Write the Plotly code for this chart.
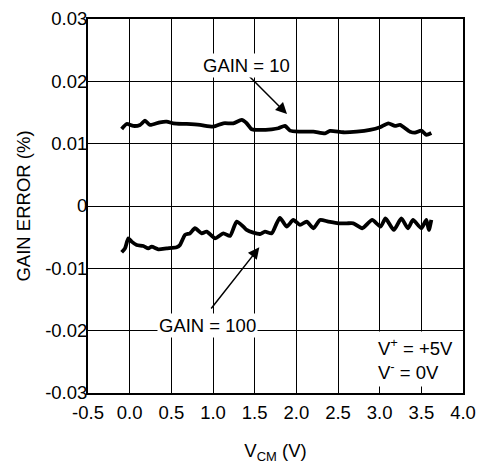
import plotly.graph_objects as go

# Data
gain10_x = [-0.096, -0.036, 0.044, 0.124, 0.184, 0.244, 0.364, 0.444, 0.524, 0.684,
            0.844, 1.004, 1.124, 1.244, 1.344, 1.404, 1.464, 1.564, 1.704, 1.784,
            1.864, 1.924, 2.044, 2.204, 2.344, 2.404, 2.564, 2.724, 2.884, 3.004,
            3.104, 3.184, 3.244, 3.364, 3.424, 3.50, 3.56, 3.62]
gain10_y = [0.01236, 0.01316, 0.01284, 0.0130, 0.01368, 0.0130, 0.01343, 0.01353, 0.01327, 0.01316,
            0.0130, 0.01273, 0.01327, 0.01327, 0.0138, 0.01327, 0.01231, 0.0122, 0.01231, 0.01247,
            0.01284, 0.01209, 0.01193, 0.01193, 0.01167, 0.01204, 0.01183, 0.01193, 0.0122, 0.01263,
            0.01327, 0.01284, 0.0130, 0.01193, 0.01177, 0.0121, 0.0114, 0.0117]

gain100_x = [-0.096, -0.056, -0.016, 0.024, 0.084, 0.164, 0.224, 0.264, 0.344, 0.444,
             0.564, 0.604, 0.664, 0.724, 0.784, 0.864, 0.924, 1.024, 1.124, 1.204,
             1.284, 1.364, 1.404, 1.484, 1.564, 1.624, 1.704, 1.764, 1.804, 1.884,
             1.964, 2.044, 2.124, 2.204, 2.284, 2.384, 2.504, 2.604, 2.684, 2.79,
             2.91, 3.01, 3.07, 3.17, 3.26, 3.34, 3.40, 3.50, 3.56, 3.59, 3.62]
gain100_y = [-0.00743, -0.0068, -0.00518, -0.00572, -0.00625, -0.00641, -0.0068, -0.00652, -0.00694, -0.0068,
             -0.00662, -0.00625, -0.00464, -0.00438, -0.00357, -0.00438, -0.00411, -0.00518, -0.00438, -0.00481,
             -0.0025, -0.00331, -0.00384, -0.00427, -0.00449, -0.00411, -0.00438, -0.00278, -0.0019, -0.00331,
             -0.00224, -0.00304, -0.0025, -0.00357, -0.00224, -0.0025, -0.00278, -0.00278, -0.00278, -0.00357,
             -0.00224, -0.00331, -0.0020, -0.00384, -0.0020, -0.00357, -0.00224, -0.00357, -0.00224, -0.00384, -0.00224]

x_ticks = [-0.5, 0.0, 0.5, 1.0, 1.5, 2.0, 2.5, 3.0, 3.5, 4.0]
x_ticktext = ["-0.5", "0.0", "0.5", "1.0", "1.5", "2.0", "2.5", "3.0", "3.5", "4.0"]
y_ticks = [0.03, 0.02, 0.01, 0, -0.01, -0.02, -0.03]
y_ticktext = ["0.03", "0.02", "0.01", "0", "-0.01", "-0.02", "-0.03"]

FONT = "Liberation Sans, Arial, sans-serif"
FS = 18.5

fig = go.Figure()
fig.add_trace(go.Scatter(x=gain10_x, y=gain10_y, mode="lines",
                         line=dict(color="black", width=3.8, shape="spline", smoothing=0.6),
                         showlegend=False, hoverinfo="skip"))
fig.add_trace(go.Scatter(x=gain100_x, y=gain100_y, mode="lines",
                         line=dict(color="black", width=3.8, shape="spline", smoothing=0.6),
                         showlegend=False, hoverinfo="skip"))

axis_common = dict(showgrid=True, gridcolor="black", gridwidth=1,
                   showline=True, linecolor="black", linewidth=2, mirror="ticks",
                   ticks="inside", ticklen=4, tickcolor="black", zeroline=False,
                   automargin=False,
                   tickfont=dict(family=FONT, size=FS, color="black"))

fig.update_xaxes(range=[-0.5, 4.0], tickvals=x_ticks, ticktext=x_ticktext, ticklabelstandoff=2,
                 title=dict(text="V<sub>CM</sub> (V)", font=dict(family=FONT, size=FS, color="black"), standoff=24),
                 **axis_common)
fig.update_yaxes(range=[-0.03, 0.03], tickvals=y_ticks, ticktext=y_ticktext, ticklabelstandoff=-5,
                 title=dict(text="GAIN ERROR (%)", font=dict(family=FONT, size=FS, color="black"), standoff=10),
                 **axis_common)

fig.add_annotation(x=1.888, y=0.01476, ax=1.384, ay=0.0215, xref="x", yref="y", axref="x", ayref="y",
                   text="", showarrow=True, arrowhead=2, arrowsize=1.5, arrowwidth=1.5, arrowcolor="black")
fig.add_annotation(x=1.556, y=-0.00663, ax=0.964, ay=-0.01668, xref="x", yref="y", axref="x", ayref="y",
                   text="", showarrow=True, arrowhead=2, arrowsize=1.5, arrowwidth=1.5, arrowcolor="black")
fig.add_annotation(x=1.4, y=0.0226, text="GAIN = 10", showarrow=False,
                   font=dict(family=FONT, size=FS, color="black"), bgcolor="white", borderpad=1)
fig.add_annotation(x=0.928, y=-0.01925, text="GAIN = 100", showarrow=False,
                   font=dict(family=FONT, size=FS, color="black"), bgcolor="white", borderpad=1)
fig.add_annotation(x=2.93, y=-0.0245, xanchor="left", yanchor="middle", align="left",
                   text="V<sup>+</sup> = +5V<br>V<sup>-</sup> = 0V", showarrow=False,
                   font=dict(family=FONT, size=FS, color="black"), bgcolor="white", borderpad=3)

fig.update_layout(width=480, height=464, margin=dict(l=88, r=17, t=19, b=71),
                  plot_bgcolor="white", paper_bgcolor="white",
                  font=dict(family=FONT, color="black"), hovermode=False)

fig.write_html("out.html", config={"displayModeBar": False},
               post_script="document.body.style.margin='0';")
